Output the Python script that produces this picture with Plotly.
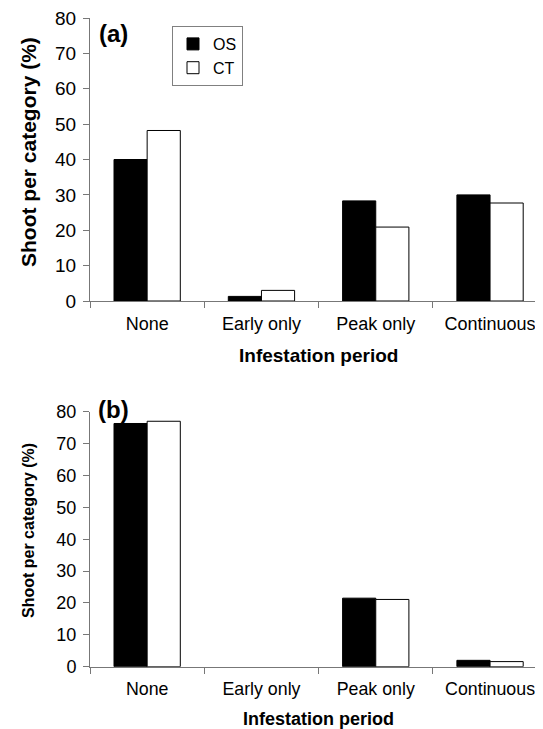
import plotly.graph_objects as go

categories = ["None", "Early only", "Peak only", "Continuous"]
os_a = [40.0, 1.3, 28.3, 30.0]
ct_a = [48.2, 3.0, 20.9, 27.7]
os_b = [76.3, 0.0, 21.5, 2.0]
ct_b = [77.0, 0.0, 21.1, 1.6]
y_ticks = [0, 10, 20, 30, 40, 50, 60, 70, 80]

OFF = 8  # default page body margin
W, H = 543 - 2 * OFF, 729 - OFF
FONT = "Liberation Sans, Arial, sans-serif"

def px_x(x):
    return (x - OFF) / W

def px_y(y):
    return 1 - (y - OFF) / H

def edge_widths(vals):
    return [1 if v > 0 else 0 for v in vals]

fig = go.Figure()
fig.add_trace(go.Bar(x=categories, y=os_a, name="OS",
                     marker=dict(color="black", line=dict(color="black", width=edge_widths(os_a))), xaxis="x", yaxis="y"))
fig.add_trace(go.Bar(x=categories, y=ct_a, name="CT",
                     marker=dict(color="white", line=dict(color="black", width=edge_widths(ct_a))), xaxis="x", yaxis="y"))
fig.add_trace(go.Bar(x=categories, y=os_b, name="OS", showlegend=False,
                     marker=dict(color="black", line=dict(color="black", width=edge_widths(os_b))), xaxis="x2", yaxis="y2"))
fig.add_trace(go.Bar(x=categories, y=ct_b, name="CT", showlegend=False,
                     marker=dict(color="white", line=dict(color="black", width=edge_widths(ct_b))), xaxis="x2", yaxis="y2"))

axis_common = dict(showline=True, linecolor="#777777", linewidth=1, ticks="outside", tickcolor="#777777",
                   ticklen=6, showgrid=False, zeroline=False, automargin=False, ticklabeloverflow="allow")

# category width ~114.3 px starting at x=90; visible area ends at x=535
x_end = -0.5 + (535 - 90) / 114.3
x_dom = [px_x(90), 1.0]
fig.update_layout(
    width=W, height=H,
    margin=dict(l=0, r=0, t=0, b=0),
    paper_bgcolor="white", plot_bgcolor="white",
    barmode="group", bargap=0.42, bargroupgap=0,
    font=dict(family=FONT, color="black", size=18),
    xaxis=dict(domain=x_dom, anchor="y", range=[-0.5, x_end], tickson="boundaries",
               tickfont=dict(size=18), ticklabelstandoff=6, **axis_common),
    yaxis=dict(domain=[px_y(301), px_y(18)], anchor="x", range=[0, 80], tickvals=y_ticks,
               tickfont=dict(size=19), ticklabelstandoff=3, **axis_common),
    xaxis2=dict(domain=x_dom, anchor="y2", range=[-0.5, x_end], tickson="boundaries",
                tickfont=dict(size=17.8), ticklabelstandoff=6, **axis_common),
    yaxis2=dict(domain=[px_y(666.7), px_y(411.7)], anchor="x2", range=[0, 80], tickvals=y_ticks,
                tickfont=dict(size=18), ticklabelstandoff=3, **axis_common),
    legend=dict(x=px_x(172), y=px_y(26), xanchor="left", yanchor="top",
                bordercolor="#808080", borderwidth=1, bgcolor="white",
                font=dict(size=16), itemwidth=30, tracegroupgap=0),
)

annos = [
    dict(text="<b>Shoot per category (%)</b>", x=px_x(28), y=px_y(152), textangle=-90, font=dict(size=21)),
    dict(text="<b>Infestation period</b>", x=px_x(318), y=px_y(355), font=dict(size=19)),
    dict(text="<b>(a)</b>", x=px_x(113), y=px_y(34), font=dict(size=24)),
    dict(text="<b>Shoot per category (%)</b>", x=px_x(28), y=px_y(531), textangle=-90, font=dict(size=16)),
    dict(text="<b>Infestation period</b>", x=px_x(318), y=px_y(719), font=dict(size=18)),
    dict(text="<b>(b)</b>", x=px_x(113), y=px_y(409), font=dict(size=24)),
]
for a in annos:
    fig.add_annotation(xref="paper", yref="paper", showarrow=False, xanchor="center", yanchor="middle", **a)

fig.write_html("out.html")
